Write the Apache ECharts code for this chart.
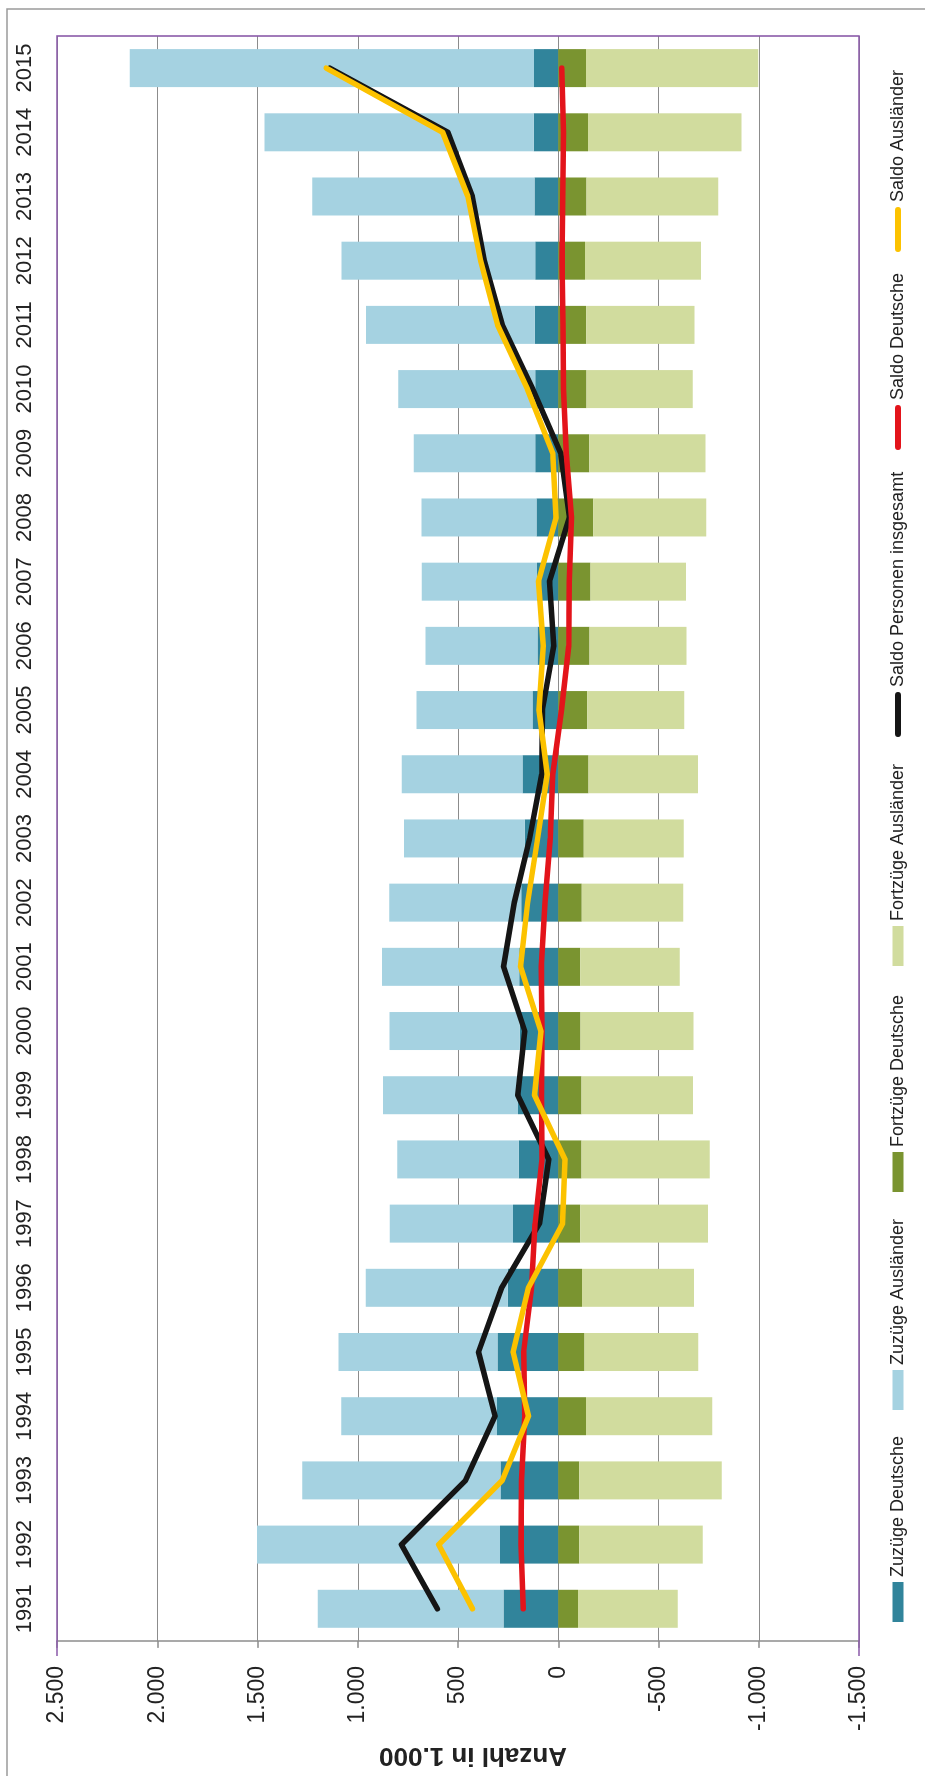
<!DOCTYPE html>
<html>
<head>
<meta charset="utf-8">
<script src="https://cdn.jsdelivr.net/npm/echarts@6/dist/echarts.min.js"></script>
<style>
  html, body { margin: 0; padding: 0; background: #ffffff; }
  #wrap { position: relative; width: 925px; height: 1776px; overflow: hidden; background: #ffffff; }
  #chart { position: absolute; left: 0; top: 0; width: 1776px; height: 925px;
           transform-origin: 0 0; transform: translate(0px, 1776px) rotate(-90deg); }
</style>
</head>
<body>
<div id="wrap"><div id="chart"></div></div>
<script>
// Werte in 1.000 Personen
const years = ['1991','1992','1993','1994','1995','1996','1997','1998','1999','2000','2001','2002','2003',
               '2004','2005','2006','2007','2008','2009','2010','2011','2012','2013','2014','2015'];
const zuzuegeDeutsche = [273.6, 290.9, 287.6, 305.0, 303.3, 251.7, 225.3, 197.0, 200.2, 191.9, 194.0, 184.2, 167.2,
                         178.0, 128.1, 103.4, 106.0, 108.3, 114.7, 114.8, 116.6, 115.0, 118.4, 122.2, 120.7];
const zuzuegeAuslaender = [925.4, 1211.3, 989.8, 777.6, 792.7, 708.0, 615.3, 605.5, 673.8, 649.3, 685.2, 658.3, 601.8,
                           602.2, 579.3, 558.5, 574.8, 573.8, 606.3, 683.5, 841.7, 965.9, 1108.1, 1342.5, 2016.3];
const fortzuegeDeutsche = [-98.9, -105.2, -104.7, -138.3, -130.7, -118.4, -109.9, -116.4, -116.4, -111.2, -109.5, -117.7, -127.3,
                           -150.7, -144.8, -155.3, -161.1, -174.8, -155.0, -141.0, -140.1, -133.2, -140.3, -148.6, -138.3];
const fortzuegeAuslaender = [-497.6, -614.9, -710.6, -629.3, -567.4, -559.1, -637.1, -639.0, -555.6, -562.8, -497.0, -505.6, -499.0,
                             -546.9, -483.6, -483.8, -475.8, -563.1, -578.8, -529.6, -538.9, -578.8, -657.6, -765.6, -859.3];
const saldoGesamt = [602.5, 782.1, 462.1, 315.0, 397.9, 282.2, 93.7, 47.1, 202.0, 167.1, 272.7, 219.3, 142.6,
                     82.5, 79.0, 22.8, 43.9, -55.7, -12.8, 127.7, 279.3, 368.9, 428.6, 550.5, 1139.4];
const saldoDeutsche = [174.7, 185.7, 182.9, 166.7, 172.6, 133.3, 115.4, 80.6, 83.8, 80.7, 84.5, 66.5, 39.9,
                       27.3, -16.7, -51.9, -55.1, -66.5, -40.3, -26.2, -23.5, -18.2, -21.9, -26.4, -17.6];
const saldoAuslaender = [427.8, 596.4, 279.2, 148.3, 225.3, 148.9, -21.8, -33.5, 118.2, 86.5, 188.2, 152.7, 102.8,
                         55.3, 95.7, 74.7, 99.0, 10.8, 27.5, 153.9, 302.8, 387.1, 450.7, 576.9, 1157.0];
const seriesNames = ['Zuzüge Deutsche', 'Zuzüge Ausländer', 'Fortzüge Deutsche', 'Fortzüge Ausländer',
                     'Saldo Personen insgesamt', 'Saldo Deutsche', 'Saldo Ausländer'];
const axisTitle = 'Anzahl in 1.000';

const colors = ['#31849b', '#a5d2e1', '#7a9430', '#d1dc9e', '#151515', '#e3141b', '#fcc200'];
const FONT = "'Liberation Sans', Arial, sans-serif";
const textColor = '#222222';
const gridColor = '#8c8c8c';
const purple = '#8a5aa9';

const chart = echarts.init(document.getElementById('chart'), null, { width: 1776, height: 925, renderer: 'canvas' });

function deFormat(v) {
  const s = Math.abs(v).toString().replace(/\B(?=(\d{3})+(?!\d))/g, '.');
  return (v < 0 ? '-' : '') + s;
}

const capsule = 'path://M3,0 L42,0 A3,3 0 0 1 42,6 L3,6 A3,3 0 0 1 3,0 Z';
const legendLeft = [154, 366, 584, 810, 1039, 1326, 1524];
const legends = seriesNames.map((n, i) => {
  const isLine = i >= 4;
  return {
    show: true,
    selectedMode: false,
    orient: 'horizontal',
    left: legendLeft[i],
    top: 887,
    padding: 0,
    itemWidth: isLine ? 45 : 40,
    itemHeight: isLine ? 6 : 11,
    itemGap: 0,
    itemStyle: { borderWidth: 0 },
    textStyle: { fontFamily: FONT, fontSize: 18, color: textColor, lineHeight: 22 },
    data: [{ name: n, icon: isLine ? capsule : 'rect' }]
  };
});

const barCommon = { type: 'bar', stack: 'total', barWidth: 38, barGap: '0%', emphasis: { disabled: true } };
const lineCommon = { type: 'line', symbol: 'none', smooth: false, emphasis: { disabled: true }, z: 5 };

const option = {
  backgroundColor: '#ffffff',
  animation: false,
  color: colors,
  grid: { left: 120, right: 36, top: 57, bottom: 66, show: false },
  legend: legends,
  xAxis: {
    type: 'category',
    data: years,
    position: 'top',
    boundaryGap: true,
    axisLine: { show: false },
    axisTick: { show: false },
    axisLabel: { fontFamily: FONT, fontSize: 22, color: textColor, margin: 21, interval: 0 }
  },
  yAxis: {
    type: 'value',
    min: -1500,
    max: 2500,
    interval: 500,
    position: 'left',
    axisLine: { show: true, lineStyle: { color: gridColor, width: 1.5 } },
    axisTick: { show: true, inside: false, length: 7, lineStyle: { color: gridColor, width: 1.5 } },
    splitLine: { show: true, lineStyle: { color: gridColor, width: 1.2 } },
    axisLabel: { fontFamily: FONT, fontSize: 23, color: textColor, margin: 25, formatter: deFormat },
    name: axisTitle,
    nameLocation: 'middle',
    nameRotate: 90,
    nameGap: 88,
    nameTextStyle: { fontFamily: FONT, fontSize: 26, fontWeight: 'bold', color: textColor, padding: [0, 30, 0, 0] }
  },
  graphic: [
    { type: 'rect', silent: true, z: -10,
      shape: { x: -10, y: 7, width: 1777, height: 940 },
      style: { fill: 'none', stroke: '#9a9a9a', lineWidth: 1.5 } },
    { type: 'polyline', silent: true, z: 50,
      shape: { points: [[120, 57], [1740, 57], [1740, 859], [120, 859]] },
      style: { fill: 'none', stroke: purple, lineWidth: 1.6 } }
  ],
  series: [
    Object.assign({}, barCommon, { name: seriesNames[0], data: zuzuegeDeutsche, itemStyle: { color: colors[0] } }),
    Object.assign({}, barCommon, { name: seriesNames[1], data: zuzuegeAuslaender, itemStyle: { color: colors[1] } }),
    Object.assign({}, barCommon, { name: seriesNames[2], data: fortzuegeDeutsche, itemStyle: { color: colors[2] } }),
    Object.assign({}, barCommon, { name: seriesNames[3], data: fortzuegeAuslaender, itemStyle: { color: colors[3] } }),
    Object.assign({}, lineCommon, { name: seriesNames[4], data: saldoGesamt, itemStyle: { color: colors[4] },
      lineStyle: { color: colors[4], width: 5.5, cap: 'round', join: 'round' } }),
    Object.assign({}, lineCommon, { name: seriesNames[5], data: saldoDeutsche, itemStyle: { color: colors[5] },
      lineStyle: { color: colors[5], width: 5.5, cap: 'round', join: 'round' } }),
    Object.assign({}, lineCommon, { name: seriesNames[6], data: saldoAuslaender, itemStyle: { color: colors[6] },
      lineStyle: { color: colors[6], width: 5.5, cap: 'round', join: 'round' } })
  ]
};
chart.setOption(option);
</script>
</body>
</html>
